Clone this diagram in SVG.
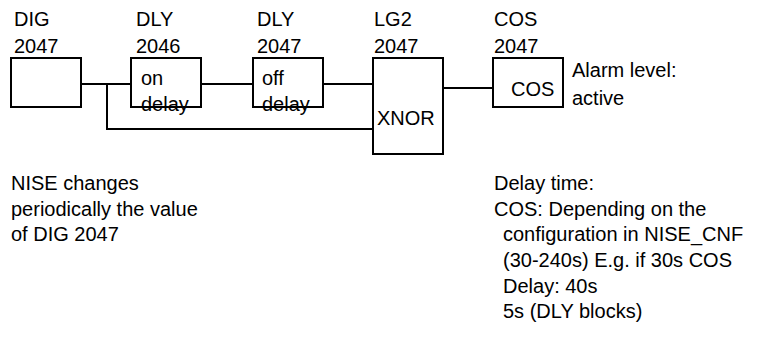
<svg xmlns="http://www.w3.org/2000/svg" width="762" height="347" viewBox="0 0 762 347">
<style>
.b{fill:none;stroke:#000;stroke-width:2}
.c{fill:none;stroke:#000;stroke-width:2}
text{font-family:"Liberation Sans",Arial,sans-serif;font-size:20px;fill:#000}
</style>
<rect width="762" height="347" fill="#fff"/>
<g id="connectors">
<polyline class="c" points="81,84 131,84"/>
<polyline class="c" points="107,84 107,129 373,129"/>
<polyline class="c" points="201,84 253,84"/>
<polyline class="c" points="323,84 373,84"/>
<polyline class="c" points="443,88 493,88"/>
</g>
<g id="dig">
<text x="14" y="26">DIG</text>
<text x="14" y="53">2047</text>
<rect class="b" x="11" y="58" width="70" height="49"/>
</g>
<g id="dly2046">
<text x="136" y="26">DLY</text>
<text x="136" y="53">2046</text>
<rect class="b" x="131" y="58" width="70" height="49"/>
<text x="141" y="85">on</text>
<text x="141" y="111">delay</text>
</g>
<g id="dly2047">
<text x="257" y="26">DLY</text>
<text x="257" y="53">2047</text>
<rect class="b" x="253" y="58" width="70" height="49"/>
<text x="262" y="85">off</text>
<text x="262" y="111">delay</text>
</g>
<g id="lg2">
<text x="374" y="26">LG2</text>
<text x="374" y="53">2047</text>
<rect class="b" x="373" y="58" width="70" height="96"/>
<text x="377" y="125">XNOR</text>
</g>
<g id="cos">
<text x="494" y="26">COS</text>
<text x="494" y="53">2047</text>
<rect class="b" x="493" y="58" width="70" height="49"/>
<text x="511" y="96">COS</text>
<text x="572" y="77">Alarm level:</text>
<text x="572" y="105">active</text>
</g>
<g id="note-left">
<text x="11" y="190">NISE changes</text>
<text x="11" y="216">periodically the value</text>
<text x="11" y="241">of DIG 2047</text>
</g>
<g id="note-right">
<text x="494" y="190">Delay time:</text>
<text x="494" y="216">COS: Depending on the</text>
<text x="503" y="241">configuration in NISE_CNF</text>
<text x="503" y="267">(30-240s) E.g. if 30s COS</text>
<text x="503" y="293">Delay: 40s</text>
<text x="503" y="318">5s (DLY blocks)</text>
</g>
</svg>
